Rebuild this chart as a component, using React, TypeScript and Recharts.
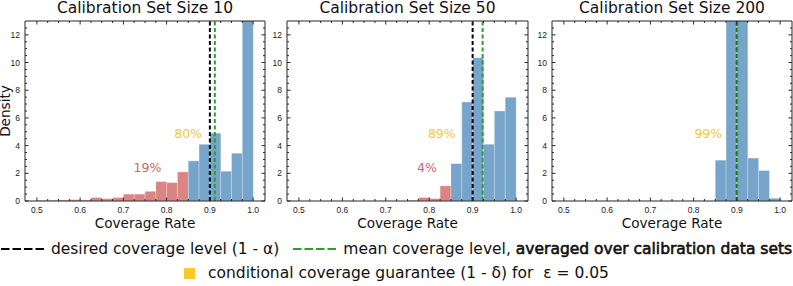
import React from 'react';
import { ComposedChart, Bar, Cell, XAxis, YAxis, ReferenceLine, ReferenceDot, Label } from 'recharts';

// histogram bins (centres), width 0.025
const binCenters = [
  0.5125, 0.5375, 0.5625, 0.5875, 0.6125, 0.6375, 0.6625, 0.6875, 0.7125, 0.7375,
  0.7625, 0.7875, 0.8125, 0.8375, 0.8625, 0.8875, 0.9125, 0.9375, 0.9625, 0.9875,
];

const densitySize10 = [0.05, 0.05, 0.07, 0.1, 0.07, 0.25, 0.17, 0.25, 0.5, 0.5, 0.7, 1.4, 1.33, 2.1, 2.9, 4.1, 4.9, 2.15, 3.45, 15.0];
const densitySize50 = [0, 0, 0, 0, 0, 0, 0, 0, 0, 0, 0.05, 0.25, 0.18, 1.1, 2.7, 7.15, 10.35, 4.1, 6.5, 7.5];
const densitySize200 = [0, 0, 0, 0, 0, 0, 0, 0, 0, 0, 0, 0, 0, 0, 2.95, 16.0, 15.5, 3.1, 2.2, 0.2];

const panelTitles = ['Calibration Set Size 10', 'Calibration Set Size 50', 'Calibration Set Size 200'];
const meanCoverage = [0.9115, 0.923, 0.901];
const desiredCoverage = 0.9;
const guaranteeLabels = ['80%', '89%', '99%'];
const failureLabels = ['19%', '4%', ''];

const xMajor = [0.5, 0.6, 0.7, 0.8, 0.9, 1.0];
const xMinor = [0.525, 0.55, 0.575, 0.625, 0.65, 0.675, 0.725, 0.75, 0.775, 0.825, 0.85, 0.875, 0.925, 0.95, 0.975];
const yMajor = [0, 2, 4, 6, 8, 10, 12];
const yMinor = [0.5, 1, 1.5, 2.5, 3, 3.5, 4.5, 5, 5.5, 6.5, 7, 7.5, 8.5, 9, 9.5, 10.5, 11, 11.5, 12.5];

const THRESHOLD = 0.85;
const X_DOMAIN: [number, number] = [0.4725, 1.0275];
const Y_DOMAIN: [number, number] = [0, 13];
const BLUE = '#76a4ca';
const RED = '#da8584';
const GOLD = '#fcc62c';
const RED_TEXT = '#d66565';
const GREEN = '#2ca02c';
const FRAME = '#262626';
const FONT = '"DejaVu Sans", sans-serif';
const TICK_FONT = '"Liberation Sans", Arial, sans-serif';

const CHART_H = 232;
const MARGIN_TOP = 21;
const X_AXIS_H = 31;
const PLOT_H = CHART_H - MARGIN_TOP - X_AXIS_H;

const xTicks = [...xMajor, ...xMinor].sort((a, b) => a - b);
const yTicks = [...yMajor, ...yMinor].sort((a, b) => a - b);
const isIn = (arr: number[], v: number) => arr.some((m) => Math.abs(m - v) < 1e-6);

// bottom ticks also draw the matching inward tick on the top edge
function BottomTick(props: any) {
  const { x, y, payload } = props;
  const v = payload.value as number;
  const major = isIn(xMajor, v);
  const len = major ? 3.5 : 2;
  const top = y - PLOT_H;
  return (
    <g>
      <line x1={x} x2={x} y1={y} y2={y - len} stroke={FRAME} />
      <line x1={x} x2={x} y1={top} y2={top + len} stroke={FRAME} />
      {major && (
        <text x={x} y={y + 12} textAnchor="middle" fontSize={8.5} fontFamily={TICK_FONT} fill="#222">
          {v.toFixed(1)}
        </text>
      )}
    </g>
  );
}

function makeSideTick(side: 'left' | 'right', labelled: boolean) {
  return (props: any) => {
    const { x, y, payload } = props;
    const v = payload.value as number;
    const major = isIn(yMajor, v);
    const len = major ? 3.5 : 2;
    const dir = side === 'left' ? 1 : -1;
    return (
      <g>
        <line x1={x} x2={x + dir * len} y1={y} y2={y} stroke={FRAME} />
        {labelled && major && (
          <text x={x - 5} y={y + 3} textAnchor="end" fontSize={8.5} fontFamily={TICK_FONT} fill="#222">
            {String(v)}
          </text>
        )}
      </g>
    );
  };
}

const LeftTick = makeSideTick('left', true);
const RightTick = makeSideTick('right', false);

interface PanelProps {
  idx: number;
  densities: number[];
  left: number;
  width: number;
  rightMargin: number;
}

function Panel({ idx, densities, left, width, rightMargin }: PanelProps) {
  const rows = binCenters.map((x, i) => ({ x, density: densities[i] }));
  const plotLeft = left + 25;
  const plotRight = left + width - rightMargin;
  return (
    <>
      <div
        style={{
          position: 'absolute',
          left: plotLeft,
          width: plotRight - plotLeft,
          top: -1,
          textAlign: 'center',
          fontFamily: FONT,
          fontSize: 15.5,
          lineHeight: '18px',
          whiteSpace: 'nowrap',
        }}
      >
        {panelTitles[idx]}
      </div>
      <div style={{ position: 'absolute', left, top: 0 }}>
        <ComposedChart
          width={width}
          height={CHART_H}
          data={rows}
          margin={{ top: MARGIN_TOP, right: rightMargin, bottom: 0, left: 0 }}
          barCategoryGap={0}
          barGap={0}
        >
          <XAxis
            xAxisId="b"
            dataKey="x"
            type="number"
            domain={X_DOMAIN}
            allowDataOverflow
            ticks={xTicks}
            interval={0}
            tickSize={0}
            tickMargin={0}
            tickLine={false}
            axisLine={{ stroke: FRAME }}
            tick={BottomTick}
            height={X_AXIS_H}
          >
            <Label
              content={({ viewBox }: any) => (
                <text
                  x={viewBox.x + viewBox.width / 2}
                  y={viewBox.y + 27}
                  textAnchor="middle"
                  fontSize={13.6}
                  fontFamily={FONT}
                  fill="#111"
                >
                  Coverage Rate
                </text>
              )}
            />
          </XAxis>
          <YAxis
            yAxisId="l"
            type="number"
            domain={Y_DOMAIN}
            allowDataOverflow
            ticks={yTicks}
            interval={0}
            tickSize={0}
            tickMargin={0}
            tickLine={false}
            axisLine={{ stroke: FRAME }}
            tick={LeftTick}
            width={25}
          >
            {idx === 0 && (
              <Label
                value="Density"
                angle={-90}
                position="insideLeft"
                offset={5.5}
                fontSize={13.6}
                fontFamily={FONT}
                fill="#111"
                style={{ textAnchor: 'middle' }}
              />
            )}
          </YAxis>
          <YAxis
            yAxisId="r"
            orientation="right"
            mirror
            type="number"
            domain={Y_DOMAIN}
            allowDataOverflow
            ticks={yTicks}
            interval={0}
            tickSize={0}
            tickMargin={0}
            tickLine={false}
            axisLine={{ stroke: FRAME }}
            tick={RightTick}
          />
          <Bar xAxisId="b" yAxisId="l" dataKey="density" isAnimationActive={false} stroke="#ffffff" strokeOpacity={0.3}>
            {rows.map((r, i) => (
              <Cell key={i} fill={r.x < THRESHOLD ? RED : BLUE} strokeWidth={r.density > 0 ? 1 : 0} />
            ))}
          </Bar>
          <ReferenceLine xAxisId="b" yAxisId="l" x={desiredCoverage} stroke="#000" strokeWidth={2} strokeDasharray="4 2.5" />
          <ReferenceLine xAxisId="b" yAxisId="l" x={meanCoverage[idx]} stroke={GREEN} strokeWidth={2} strokeDasharray="4 2.5" />
          {/* top edge of the frame */}
          <ReferenceLine xAxisId="b" yAxisId="l" y={Y_DOMAIN[1]} stroke={FRAME} strokeWidth={1} />
          <ReferenceDot xAxisId="b" yAxisId="l" x={[0.85, 0.829, 0.834][idx]} y={4.9} r={0} fill="none" stroke="none">
            <Label value={guaranteeLabels[idx]} position="center" fill={GOLD} fontSize={12.5} fontFamily={FONT} />
          </ReferenceDot>
          {failureLabels[idx] && (
            <ReferenceDot xAxisId="b" yAxisId="l" x={[0.7557, 0.795, 0][idx]} y={2.4} r={0} fill="none" stroke="none">
              <Label value={failureLabels[idx]} position="center" fill={RED_TEXT} fontSize={12.5} fontFamily={FONT} />
            </ReferenceDot>
          )}
        </ComposedChart>
      </div>
    </>
  );
}

function DashSwatch({ color }: { color: string }) {
  return (
    <svg width={43} height={6} style={{ display: 'block' }}>
      <line x1={0} x2={43} y1={3} y2={3} stroke={color} strokeWidth={2.2} strokeDasharray="8.5 3" />
    </svg>
  );
}

export default function App() {
  return (
    <div
      style={{
        position: 'absolute',
        left: 0,
        top: 0,
        width: 793,
        height: 286,
        overflow: 'hidden',
        background: '#fff',
        fontFamily: FONT,
        color: '#111',
      }}
    >
      <Panel idx={0} densities={densitySize10} left={0} width={270} rightMargin={5} />
      <Panel idx={1} densities={densitySize50} left={262} width={270} rightMargin={4} />
      <Panel idx={2} densities={densitySize200} left={527} width={266} rightMargin={1} />

      {/* legend */}
      <div
        style={{
          position: 'absolute',
          left: 0,
          top: 240,
          width: 793,
          display: 'flex',
          justifyContent: 'center',
          alignItems: 'center',
          fontSize: 15.5,
          lineHeight: '18px',
          whiteSpace: 'nowrap',
        }}
      >
        <DashSwatch color="#000" />
        <span style={{ marginLeft: 7 }}>desired coverage level (1 - α)</span>
        <span style={{ marginLeft: 14 }}>
          <DashSwatch color={GREEN} />
        </span>
        <span style={{ marginLeft: 7 }}>
          mean coverage level,{' '}
          <span style={{ WebkitTextStroke: '0.6px #111' }}>averaged over calibration data sets</span>
        </span>
      </div>
      <div
        style={{
          position: 'absolute',
          left: 0,
          top: 264,
          width: 793,
          display: 'flex',
          justifyContent: 'center',
          alignItems: 'center',
          fontSize: 15.5,
          lineHeight: '18px',
          whiteSpace: 'pre',
        }}
      >
        <span style={{ display: 'inline-block', width: 11, height: 11, background: GOLD }} />
        <span style={{ marginLeft: 13 }}>conditional coverage guarantee (1 - δ) for  ε = 0.05</span>
      </div>
    </div>
  );
}
